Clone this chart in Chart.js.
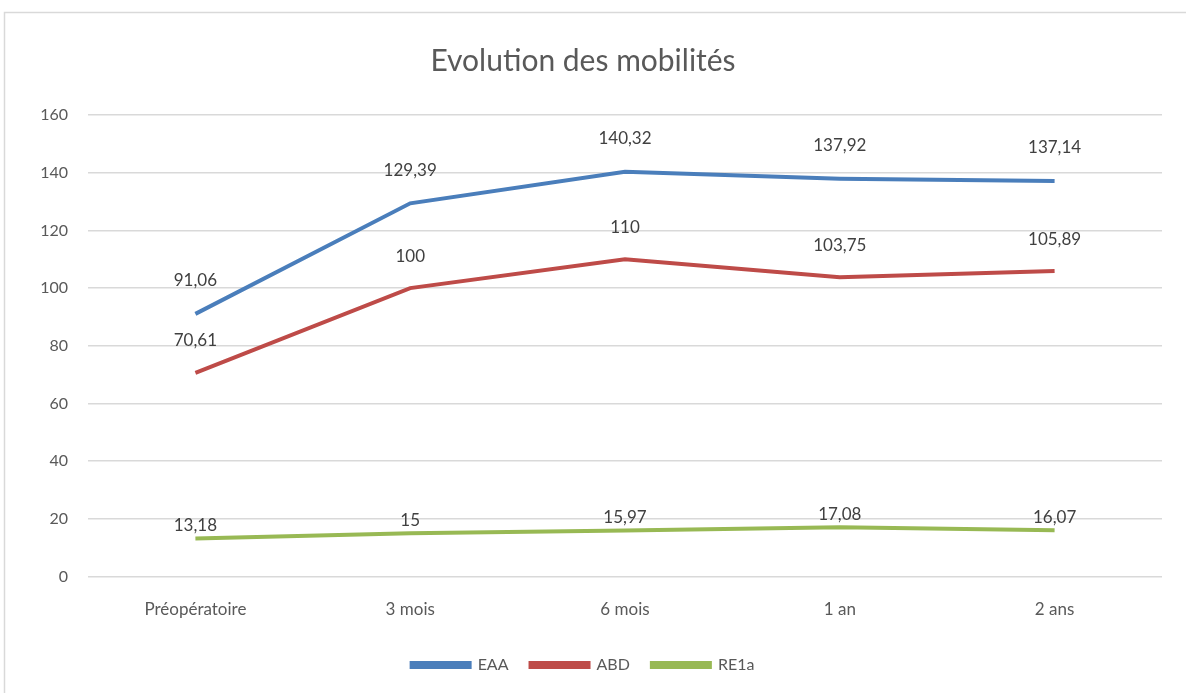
<!DOCTYPE html>
<html>
<head>
<meta charset="utf-8">
<script src="https://cdn.jsdelivr.net/npm/chart.js@4/dist/chart.umd.min.js"></script>
<style>
  html, body { margin: 0; padding: 0; background: #fff; }
  #wrap { width: 1186px; height: 693px; position: relative; }
</style>
</head>
<body>
<div id="wrap"><canvas id="evo"></canvas></div>
<script>
// data
const periodes = ['Préopératoire', '3 mois', '6 mois', '1 an', '2 ans'];
const eaa = [91.06, 129.39, 140.32, 137.92, 137.14];
const abd = [70.61, 100, 110, 103.75, 105.89];
const re1a = [13.18, 15, 15.97, 17.08, 16.07];
const yTicks = [0, 20, 40, 60, 80, 100, 120, 140, 160];

const police = 'Lato, "Liberation Sans", sans-serif';

// excel-like data labels above each point
const etiquettes = {
    id: 'etiquettes',
    afterDatasetsDraw(chart) {
        const ctx = chart.ctx;
        ctx.save();
        ctx.font = '17px ' + police;
        ctx.fillStyle = '#404040';
        ctx.textAlign = 'center';
        ctx.textBaseline = 'middle';
        chart.data.datasets.forEach((ds, i) => {
            chart.getDatasetMeta(i).data.forEach((pt, j) => {
                const txt = String(ds.data[j]).replace('.', ',');
                ctx.fillText(txt, pt.x, pt.y - ds.decalage);
            });
        });
        ctx.restore();
    }
};

// thin grey frame around the chart
const cadre = {
    id: 'cadre',
    beforeDraw(chart) {
        const ctx = chart.ctx;
        ctx.save();
        ctx.strokeStyle = '#d9d9d9';
        ctx.lineWidth = 1.5;
        ctx.strokeRect(4.5, 12.5, chart.width + 10, chart.height + 10);
        ctx.restore();
    }
};

const ctx = document.getElementById('evo').getContext('2d');
const evoChart = new Chart(ctx, {
    type: 'line',
    data: {
        labels: periodes,
        datasets: [
            {
                label: 'EAA',
                data: eaa,
                borderColor: '#4a7ebb',
                backgroundColor: '#4a7ebb',
                borderWidth: 4,
                pointRadius: 0,
                tension: 0,
                decalage: 33,
            },
            {
                label: 'ABD',
                data: abd,
                borderColor: '#be4b48',
                backgroundColor: '#be4b48',
                borderWidth: 4,
                pointRadius: 0,
                tension: 0,
                decalage: 32,
            },
            {
                label: 'RE1a',
                data: re1a,
                borderColor: '#98b954',
                backgroundColor: '#98b954',
                borderWidth: 4,
                pointRadius: 0,
                tension: 0,
                decalage: 13,
            }
        ]
    },
    options: {
        responsive: true,
        maintainAspectRatio: false,
        animation: false,
        layout: {
            padding: { left: 4, right: 24, top: 43, bottom: 10 }
        },
        plugins: {
            title: {
                display: true,
                text: 'Evolution des mobilités',
                color: '#595959',
                font: { family: police, size: 30, weight: 'normal' },
                padding: { top: 0, bottom: 36 }
            },
            legend: {
                position: 'bottom',
                labels: {
                    color: '#595959',
                    font: { family: police, size: 16 },
                    boxWidth: 58,
                    boxHeight: 4,
                    padding: 22
                }
            },
            tooltip: { enabled: false }
        },
        scales: {
            x: {
                offset: true,
                grid: { display: false },
                border: { display: false },
                ticks: {
                    color: '#595959',
                    font: { family: police, size: 17 },
                    padding: 15
                }
            },
            y: {
                min: 0,
                max: 160,
                afterFit(scale) { scale.width = 84; },
                afterBuildTicks(scale) { scale.ticks = yTicks.map(v => ({ value: v })); },
                grid: { color: '#d9d9d9', lineWidth: 1.5, drawTicks: false },
                border: { display: false },
                ticks: {
                    color: '#595959',
                    font: { family: police, size: 16 },
                    padding: 20
                }
            }
        }
    },
    plugins: [cadre, etiquettes]
});
</script>
</body>
</html>
